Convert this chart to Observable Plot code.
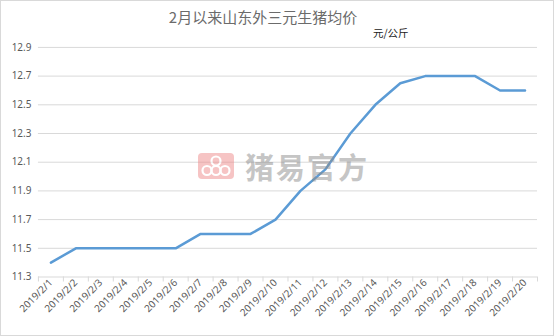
<!DOCTYPE html>
<html>
<head>
<meta charset="utf-8">
<script src="https://cdn.jsdelivr.net/npm/d3@7"></script>
<script src="https://cdn.jsdelivr.net/npm/@observablehq/plot@0.6"></script>
<style>
  html, body { margin: 0; padding: 0; background: #fff; }
  #wrap { position: relative; width: 554px; height: 336px; box-sizing: border-box; border: 1px solid #d9d9d9; overflow: hidden; font-family: "Noto Sans CJK SC", "Noto Sans", sans-serif; }
  #chart { position: absolute; left: -1px; top: -1px; }
  #title { position: absolute; left: 0; width: 524px; top: 5px; text-align: center; font-size: 15px; color: #6b6b6b; }
  #unit { position: absolute; left: 372px; top: 24px; font-size: 10.5px; color: #222; }
  #wm { position: absolute; left: 197px; top: 144px; display: flex; align-items: center; opacity: 0.5; pointer-events: none; }
  #wm span { font-size: 29px; font-weight: bold; color: #8c8c8c; margin-left: 11px; letter-spacing: 2px; font-family: "Noto Sans CJK SC", serif; }
</style>
</head>
<body>
<div id="wrap">
  <div id="chart"></div>
  <div id="title">2月以来山东外三元生猪均价</div>
  <div id="unit">元/公斤</div>
  <div id="wm">
    <svg width="36" height="26" viewBox="0 0 36 26">
      <rect x="0" y="0" width="36" height="26" rx="4" fill="#ef8a8a"/>
      <circle cx="18" cy="8" r="4.5" fill="none" stroke="#fff" stroke-width="2.2"/>
      <circle cx="9" cy="17.5" r="4.5" fill="none" stroke="#fff" stroke-width="2.2"/>
      <circle cx="18" cy="17.5" r="4.5" fill="none" stroke="#fff" stroke-width="2.2"/>
      <circle cx="27" cy="17.5" r="4.5" fill="none" stroke="#fff" stroke-width="2.2"/>
    </svg>
    <span>猪易官方</span>
  </div>
</div>
<script>
const dates = ["2019/2/1","2019/2/2","2019/2/3","2019/2/4","2019/2/5","2019/2/6","2019/2/7","2019/2/8","2019/2/9","2019/2/10","2019/2/11","2019/2/12","2019/2/13","2019/2/14","2019/2/15","2019/2/16","2019/2/17","2019/2/18","2019/2/19","2019/2/20"];
const prices = [11.4,11.5,11.5,11.5,11.5,11.5,11.6,11.6,11.6,11.7,11.9,12.05,12.3,12.5,12.65,12.7,12.7,12.7,12.6,12.6];
const yTicks = [11.3,11.5,11.7,11.9,12.1,12.3,12.5,12.7,12.9];

const data = dates.map((d, i) => ({i, date: d, price: prices[i]}));
const boundaries = d3.range(0, dates.length + 1).map(k => k - 0.5);

const chart = Plot.plot({
  width: 554,
  height: 336,
  marginLeft: 38,
  marginRight: 16,
  marginTop: 47,
  marginBottom: 59,
  style: {fontFamily: "'Noto Sans', 'DejaVu Sans', sans-serif", color: "#595959", background: "transparent"},
  x: {type: "linear", domain: [-0.5, dates.length - 0.5], axis: null},
  y: {domain: [11.3, 12.9], axis: null},
  marks: [
    Plot.ruleY(yTicks, {stroke: "#d9d9d9", strokeWidth: 1}),
    Plot.axisY({ticks: yTicks, tickSize: 0, tickPadding: 7, tickFormat: d => d.toFixed(1), fontSize: 10, label: null}),
    Plot.axisX({ticks: boundaries, tickSize: 5, tickFormat: () => "", stroke: "#d9d9d9", label: null}),
    Plot.axisX({ticks: d3.range(0, dates.length), tickSize: 0, tickPadding: 4, tickRotate: -45, tickFormat: i => dates[i], fontSize: 10, label: null}),
    Plot.line(data, {x: "i", y: "price", stroke: "#5b9bd5", strokeWidth: 2.5, strokeLinejoin: "round", strokeLinecap: "round"})
  ]
});
document.getElementById("chart").appendChild(chart);
</script>
</body>
</html>
